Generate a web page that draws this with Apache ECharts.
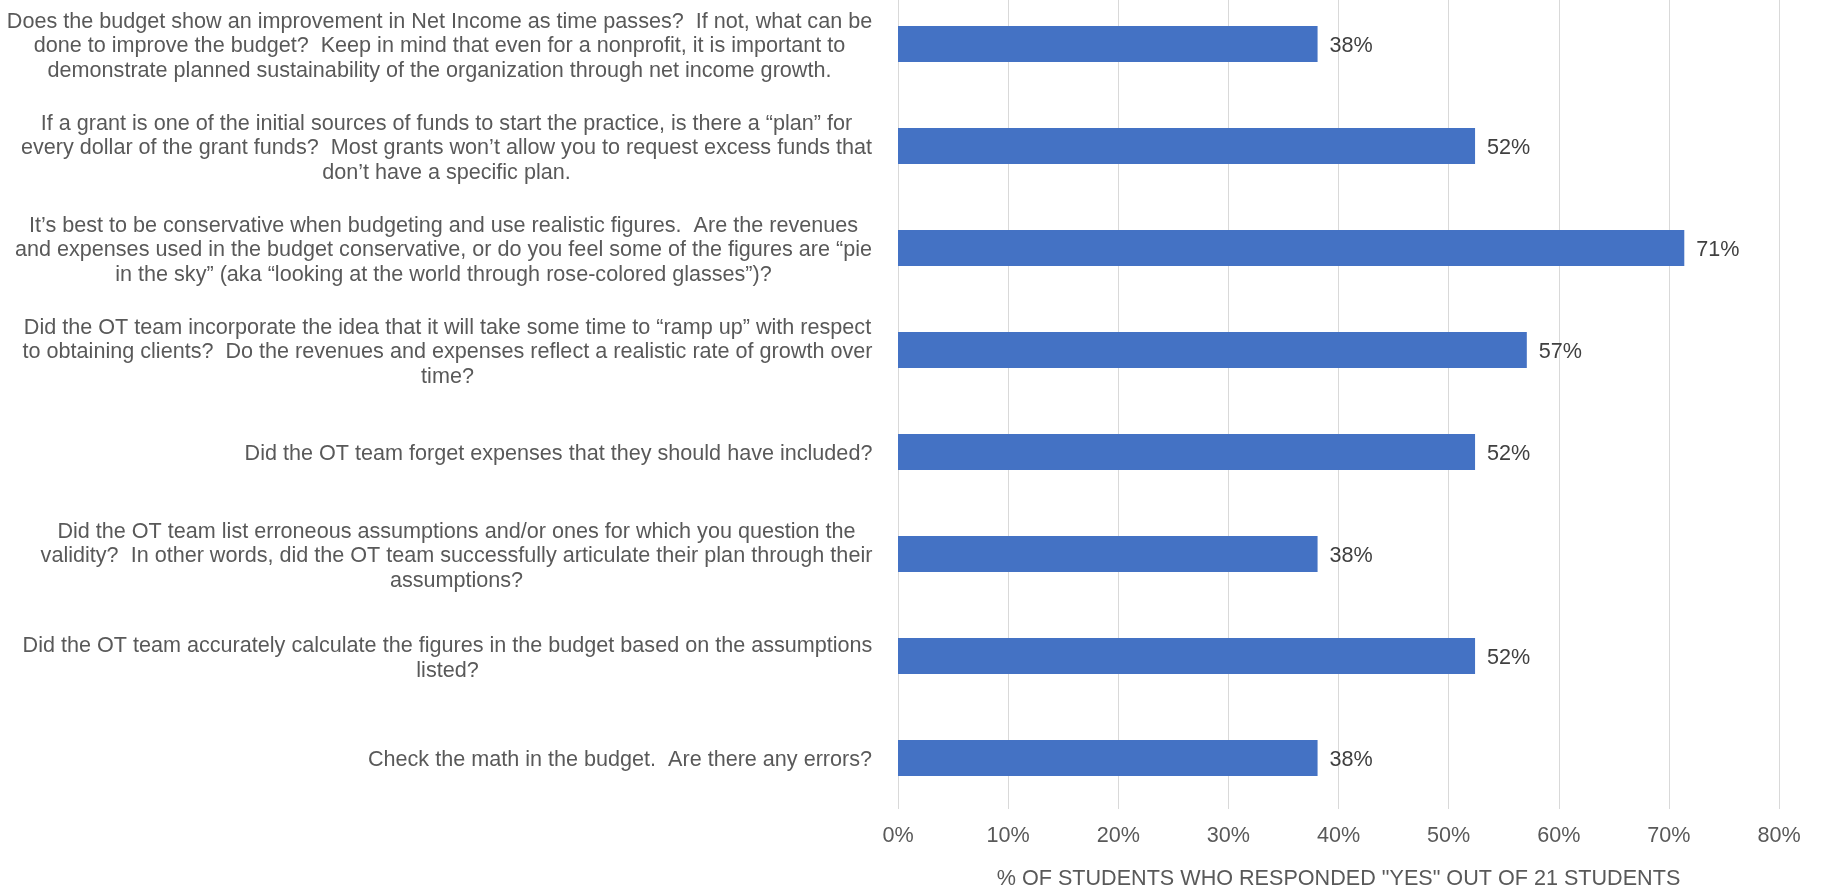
<!DOCTYPE html>
<html>
<head>
<meta charset="utf-8">
<script src="https://cdn.jsdelivr.net/npm/echarts@6/dist/echarts.min.js"></script>
<style>
html,body{margin:0;padding:0;background:#fff;overflow:hidden;}
#main{position:absolute;left:0;top:-7px;width:1821px;height:895px;}
</style>
</head>
<body>
<div id="main"></div>
<script>
const categories = [
  "Does the budget show an improvement in Net Income as time passes?  If not, what can be\ndone to improve the budget?  Keep in mind that even for a nonprofit, it is important to\ndemonstrate planned sustainability of the organization through net income growth.",
  "If a grant is one of the initial sources of funds to start the practice, is there a \u201cplan\u201d for\nevery dollar of the grant funds?  Most grants won\u2019t allow you to request excess funds that\ndon\u2019t have a specific plan.",
  "It\u2019s best to be conservative when budgeting and use realistic figures.  Are the revenues\nand expenses used in the budget conservative, or do you feel some of the figures are \u201cpie\nin the sky\u201d (aka \u201clooking at the world through rose-colored glasses\u201d)?",
  "Did the OT team incorporate the idea that it will take some time to \u201cramp up\u201d with respect\nto obtaining clients?  Do the revenues and expenses reflect a realistic rate of growth over\ntime?",
  "Did the OT team forget expenses that they should have included?",
  "Did the OT team list erroneous assumptions and/or ones for which you question the\nvalidity?  In other words, did the OT team successfully articulate their plan through their\nassumptions?",
  "Did the OT team accurately calculate the figures in the budget based on the assumptions\nlisted?",
  "Check the math in the budget.  Are there any errors?"
];
const yesPercent = [38.1, 52.4, 71.4, 57.1, 52.4, 38.1, 52.4, 38.1];
const xTicks = [0, 10, 20, 30, 40, 50, 60, 70, 80];
const axisTitle = '% OF STUDENTS WHO RESPONDED "YES" OUT OF 21 STUDENTS';

const FONT = '"Liberation Sans", Arial, Helvetica, sans-serif';
const FS = 21.6;
const TEXT = '#595959';

// measure label block widths so lines can be centred within a right-aligned block
const cv = document.createElement('canvas').getContext('2d');
cv.font = FS + 'px ' + FONT;
const rich = {};
categories.forEach((c, i) => {
  const w = Math.max(...c.split('\n').map(l => cv.measureText(l).width));
  rich['c' + i] = {width: Math.ceil(w) + 1, align: 'center', fontSize: FS, fontFamily: FONT, color: TEXT, lineHeight: 24.5};
});

const chart = echarts.init(document.getElementById('main'), null, {renderer: 'canvas', width: 1821, height: 895});
chart.setOption({
  animation: false,
  backgroundColor: '#ffffff',
  grid: {left: 898, right: 42, top: 0, bottom: 79, containLabel: false, outerBoundsMode: 'none'},
  xAxis: {
    type: 'value', min: xTicks[0], max: xTicks[xTicks.length - 1], interval: 10,
    axisLine: {show: false}, axisTick: {show: false},
    splitLine: {show: true, lineStyle: {color: '#d9d9d9', width: 1}},
    axisLabel: {formatter: '{value}%', color: TEXT, fontSize: FS, fontFamily: FONT, margin: 16},
    name: axisTitle, nameLocation: 'middle', nameGap: 59,
    nameTextStyle: {color: TEXT, fontSize: FS, fontFamily: FONT}
  },
  yAxis: {
    type: 'category', data: categories, inverse: true,
    axisLine: {show: false}, axisTick: {show: false},
    axisLabel: {
      margin: 25, align: 'right', interval: 0, padding: [5, 0, 0, 0],
      formatter: function (v) {
        const i = categories.indexOf(v);
        return v.split('\n').map(l => '{c' + i + '|' + l + '}').join('\n');
      },
      rich: rich
    }
  },
  series: [{
    type: 'bar', data: yesPercent, barWidth: 36,
    itemStyle: {color: '#4472C4'},
    label: {show: true, position: 'right', distance: 12, offset: [0, 2], color: '#404040', fontSize: FS, fontFamily: FONT,
      formatter: p => Math.round(p.value) + '%'}
  }]
});
</script>
</body>
</html>
